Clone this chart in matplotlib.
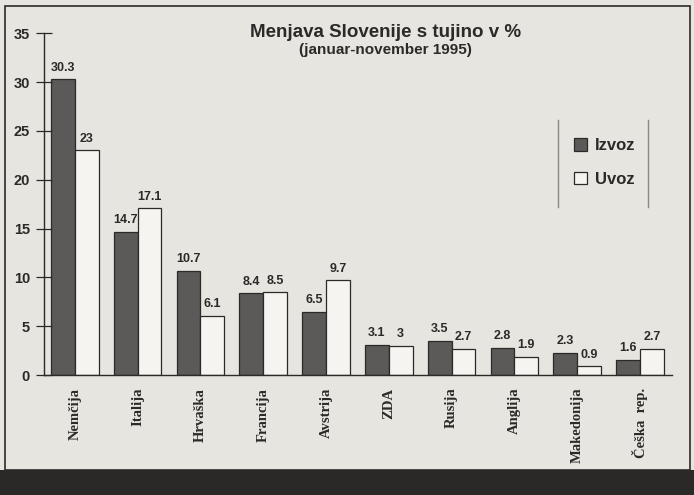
import matplotlib.pyplot as plt
import numpy as np
from matplotlib.patches import Rectangle
from matplotlib.lines import Line2D

countries = ["Nemčija", "Italija", "Hrvaška", "Francija", "Avstrija",
             "ZDA", "Rusija", "Anglija", "Makedonija", "Češka  rep."]
izvoz = [30.3, 14.7, 10.7, 8.4, 6.5, 3.1, 3.5, 2.8, 2.3, 1.6]
uvoz = [23, 17.1, 6.1, 8.5, 9.7, 3, 2.7, 1.9, 0.9, 2.7]
yticks = [0, 5, 10, 15, 20, 25, 30, 35]

bg = "#e7e5e0"
dark = "#5c5a58"
light = "#f5f4f0"
ink = "#2b2a28"

fig = plt.figure(figsize=(6.94, 4.95), dpi=100, facecolor=bg)

# page frame and dark band at the bottom
fig.patches.append(Rectangle((0.007, 0.05), 0.987, 0.937, transform=fig.transFigure,
                             fill=False, edgecolor=ink, linewidth=1.2))
fig.patches.append(Rectangle((0.0, 0.0), 1.0, 0.05, transform=fig.transFigure,
                             facecolor="#2a2928", edgecolor="none"))

ax = fig.add_axes([0.0634, 0.242, 0.905, 0.691])
ax.set_facecolor(bg)

x = np.arange(len(countries))
w = 0.38
ax.bar(x - w / 2, izvoz, w, color=dark, edgecolor=ink, linewidth=0.9, label="Izvoz")
ax.bar(x + w / 2, uvoz, w, color=light, edgecolor=ink, linewidth=0.9, label="Uvoz")

for xs, vals in ((x - w / 2, izvoz), (x + w / 2, uvoz)):
    for xi, v in zip(xs, vals):
        ax.annotate(f"{v:g}", (xi, v), xytext=(0, 4), textcoords="offset points",
                    ha="center", va="bottom", fontsize=9, fontweight="bold",
                    family="Liberation Sans", color=ink)

ax.set_xlim(-0.49, len(countries) - 0.49)
ax.set_ylim(0, 35)
ax.set_yticks(yticks)
ax.set_yticklabels([str(t) for t in yticks], fontsize=10.5, fontweight="bold",
                   family="Liberation Sans", color=ink)
ax.tick_params(axis="y", direction="inout", length=12, width=0.9, color=ink, pad=4)
ax.set_xticks(x)
ax.set_xticklabels(countries, rotation=90, fontsize=10.5, fontweight="bold",
                   family="Liberation Serif", color=ink, va="top")
ax.tick_params(axis="x", length=0, pad=9)
for s in ["top", "right"]:
    ax.spines[s].set_visible(False)
for s in ["left", "bottom"]:
    ax.spines[s].set_color(ink)
    ax.spines[s].set_linewidth(1.0)

fig.text(0.555, 0.935, "Menjava Slovenije s tujino v %", ha="center", va="center",
         fontsize=13.5, fontweight="bold", family="Liberation Sans", color=ink)
fig.text(0.555, 0.899, "(januar-november 1995)", ha="center", va="center",
         fontsize=11, fontweight="bold", family="Liberation Sans", color=ink)

leg = fig.legend(loc="center left", bbox_to_anchor=(0.815, 0.672), frameon=False,
                 handlelength=0.8, handleheight=0.8, handletextpad=0.45,
                 labelspacing=1.1, borderpad=0,
                 prop={"family": "Liberation Sans", "weight": "bold", "size": 12})
for t in leg.get_texts():
    t.set_color(ink)

# legend side rules
fig.add_artist(Line2D([0.804, 0.804], [0.582, 0.758], transform=fig.transFigure,
                      color="#8a8884", linewidth=1.0))
fig.add_artist(Line2D([0.934, 0.934], [0.582, 0.758], transform=fig.transFigure,
                      color="#8a8884", linewidth=1.0))

fig.savefig("out.png", dpi=100, facecolor=bg)
